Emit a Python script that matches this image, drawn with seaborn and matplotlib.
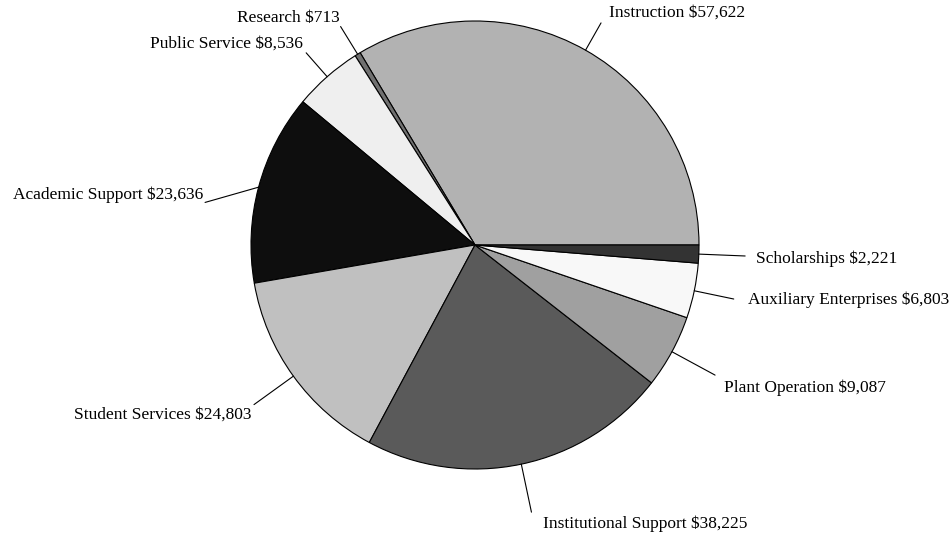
import numpy as np
import matplotlib
matplotlib.use("Agg")
import matplotlib.pyplot as plt
import seaborn as sns

categories = ["Instruction", "Research", "Public Service", "Academic Support",
              "Student Services", "Institutional Support", "Plant Operation",
              "Auxiliary Enterprises", "Scholarships"]
values = [57622, 713, 8536, 23636, 24803, 38225, 9087, 6803, 2221]
colors = ["#b2b2b2", "#707070", "#efefef", "#0e0e0e", "#c0c0c0",
          "#5a5a5a", "#a0a0a0", "#f8f8f8", "#333333"]

# layout of leader lines (radius in pie units, angle nudge in degrees)
line_radius = [1.14, 1.145, 1.142, 1.22, 1.217, 1.219, 1.219, 1.18, 1.207]
angle_nudge = [0, 0, 0, 6, 0, 0, 0, 0, 0]
# label gap (px, away from pie) and vertical shift (px, downward)
label_gap = [8, 1, 3, 2, 2, 12, 9, 14, 11]
label_shift = [-10, -9, -9, -8, 10, 12, 13, 1, 3]

sns.set_theme(style="white")
plt.rcParams["font.family"] = ["Liberation Serif", "DejaVu Serif"]

W, H, DPI = 953, 540, 100
fig = plt.figure(figsize=(W / DPI, H / DPI), dpi=DPI)
ax = fig.add_axes([0, 0, 1, 1])
R = 224.0
cx, cy = 475.0, 245.0

wedges, _ = ax.pie(values, colors=colors, startangle=0, counterclock=True,
                   radius=1.0, wedgeprops=dict(edgecolor="black", linewidth=0.8))

ax.set_aspect("auto")
ax.set_xlim(-cx / R, (W - cx) / R)
ax.set_ylim(-(H - cy) / R, cy / R)
ax.axis("off")

for w, cat, val, lr, nud, gp, sh in zip(wedges, categories, values, line_radius,
                                        angle_nudge, label_gap, label_shift):
    mid = np.deg2rad((w.theta1 + w.theta2) / 2.0)
    x0, y0 = np.cos(mid), np.sin(mid)
    end_ang = mid + np.deg2rad(nud)
    x1, y1 = lr * np.cos(end_ang), lr * np.sin(end_ang)
    ax.plot([x0, x1], [y0, y1], color="black", linewidth=0.8)
    right = np.cos(end_ang) >= 0
    tx = x1 + (gp if right else -gp) / R
    ty = y1 - sh / R
    ax.text(tx, ty, f"{cat} ${val:,}", ha="left" if right else "right",
            va="center", fontsize=12.5, color="black")

fig.savefig("out.png", dpi=DPI, facecolor="white")
